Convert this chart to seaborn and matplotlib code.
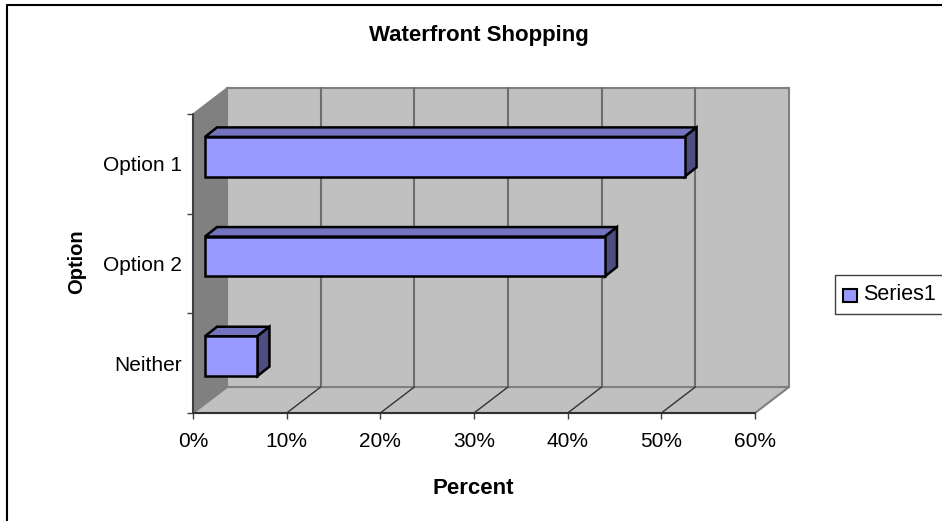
import matplotlib
matplotlib.use("Agg")
import matplotlib.pyplot as plt
from matplotlib.patches import Polygon, Rectangle
from matplotlib.transforms import Affine2D, IdentityTransform
import pandas as pd
import seaborn as sns

options = ["Option 1", "Option 2", "Neither"]
percent = [51.2, 42.7, 5.6]
x_ticks = [0, 10, 20, 30, 40, 50, 60]

FACE = "#9999FF"
TOP = "#7373BF"
SIDE = "#4D4D80"
WALL = "#C0C0C0"
SHADE = "#808080"
W, H = 942, 521
WALL_DEPTH = (34, 26)
BAR_SHIFT = (12, 7)
BAR_DEPTH = (12, 9.5)

sns.set_theme(style="white", rc={"font.family": ["Liberation Sans", "DejaVu Sans"]})
fig = plt.figure(figsize=(W / 100, H / 100), dpi=100, facecolor="white")

# Plot rectangle of the front plane, in pixels from the top left
left, right, top, bottom = 193, 755, 114, 413
ax = fig.add_axes([left / W, 1 - bottom / H, (right - left) / W, (bottom - top) / H])

frame = pd.DataFrame({"Option": options, "Percent": percent})
sns.barplot(data=frame, x="Percent", y="Option", orient="h", color=FACE, saturation=1,
            width=0.4, edgecolor="black", linewidth=1.8, ax=ax)
ax.set_xlim(0, 60)
ax.set_ylim(2.5, -0.5)
ax.patch.set_alpha(0)
sns.despine(ax=ax, left=True, bottom=True, top=True, right=True)


def shifted(dx, dy):
    return ax.transData + Affine2D().translate(dx, dy)


to_disp = ax.transData.transform

# Walls and floor of the box, built in display space from the axis limits
x0, x1 = ax.get_xlim()
y_bot, y_top = ax.get_ylim()
p_bl, p_br = to_disp((x0, y_bot)), to_disp((x1, y_bot))
p_tl, p_tr = to_disp((x0, y_top)), to_disp((x1, y_top))
dx, dy = WALL_DEPTH


def shape(points, **kw):
    ax.add_patch(Polygon(points, closed=True, transform=IdentityTransform(),
                         clip_on=False, **kw))


shape([p_bl, p_tl, p_tl + (dx, dy), p_bl + (dx, dy)], fc=SHADE, ec=SHADE, lw=1, zorder=0.1)
shape([p_bl, p_br, p_br + (dx, dy), p_bl + (dx, dy)], fc=WALL, ec=SHADE, lw=1.5, zorder=0.2)
shape([p_bl + (dx, dy), p_br + (dx, dy), p_tr + (dx, dy), p_tl + (dx, dy)],
      fc=WALL, ec=SHADE, lw=1.5, zorder=0.3)

# Gridlines run up the back wall and across the floor
for tick in x_ticks[1:-1]:
    ax.plot([tick, tick], [y_bot, y_top], color="#6E6E6E", lw=1.5, zorder=1,
            transform=shifted(dx, dy), clip_on=False)
    a = to_disp((tick, y_bot))
    ax.plot([a[0], a[0] + dx], [a[1], a[1] + dy], color="#333333", lw=1,
            transform=IdentityTransform(), zorder=1, clip_on=False)

# Front edges of the box
ax.plot([x0, x0], [y_bot, y_top], color="#404040", lw=1.5, clip_on=False, zorder=2)
ax.plot([x0, x1], [y_bot, y_bot], color="#303030", lw=1.5, clip_on=False, zorder=2)

# Extrude every bar: shift its front face, then add the top and side faces
ox, oy = BAR_SHIFT
bx, by = BAR_DEPTH
for bar in list(ax.patches):
    if not isinstance(bar, Rectangle):
        continue
    bar.set_transform(shifted(ox, oy))
    bar.set_zorder(6)
    x, y, w, h = bar.get_x(), bar.get_y(), bar.get_width(), bar.get_height()
    tl, tr = to_disp((x, y)) + (ox, oy), to_disp((x + w, y)) + (ox, oy)
    br = to_disp((x + w, y + h)) + (ox, oy)
    shape([tl, tr, tr + (bx, by), tl + (bx, by)], fc=TOP, ec="black", lw=1.8, zorder=4)
    shape([tr, br, br + (bx, by), tr + (bx, by)], fc=SIDE, ec="black", lw=1.8, zorder=4)

ax.set_xticks(x_ticks)
ax.set_xticklabels([f"{t}%" for t in x_ticks], fontsize=15, color="black")
ax.set_yticks([0, 1, 2])
ax.set_yticklabels(options, fontsize=15, color="black")
ax.set_yticks([-0.5, 0.5, 1.5, 2.5], minor=True)
ax.tick_params(axis="x", length=4, width=1, color="#404040", pad=10, bottom=True)
ax.tick_params(axis="y", which="major", length=0, pad=8, left=False)
ax.tick_params(axis="y", which="minor", length=4, width=1, color="#404040", left=True)

ax.set_xlabel("")
ax.set_ylabel("")
fig.text(473 / W, 1 - 489 / H, "Percent", fontsize=16, fontweight="bold",
         ha="center", va="center", color="black")
fig.text(77 / W, 1 - 262 / H, "Option", fontsize=14.5, fontweight="bold",
         ha="center", va="center", rotation=90, color="black")
fig.text(479 / W, 1 - 36 / H, "Waterfront Shopping", fontsize=16, fontweight="bold",
         ha="center", va="center", color="black")

# Outer chart border and legend box
fig.add_artist(plt.Line2D([7 / W, 7 / W, 1], [0, 1 - 5 / H, 1 - 5 / H], color="black", lw=1.5))
fig.add_artist(Rectangle((835 / W, 1 - 314 / H), 110 / W, 39 / H, fc="white", ec="#404040",
                         lw=1, transform=fig.transFigure))
fig.add_artist(Rectangle((843 / W, 1 - 302 / H), 14 / W, 13 / H, fc=FACE, ec="black",
                         lw=1.5, transform=fig.transFigure))
fig.text(863 / W, 1 - 294 / H, "Series1", fontsize=15.5, ha="left", va="center", color="black")

fig.savefig("out.png", dpi=100)
